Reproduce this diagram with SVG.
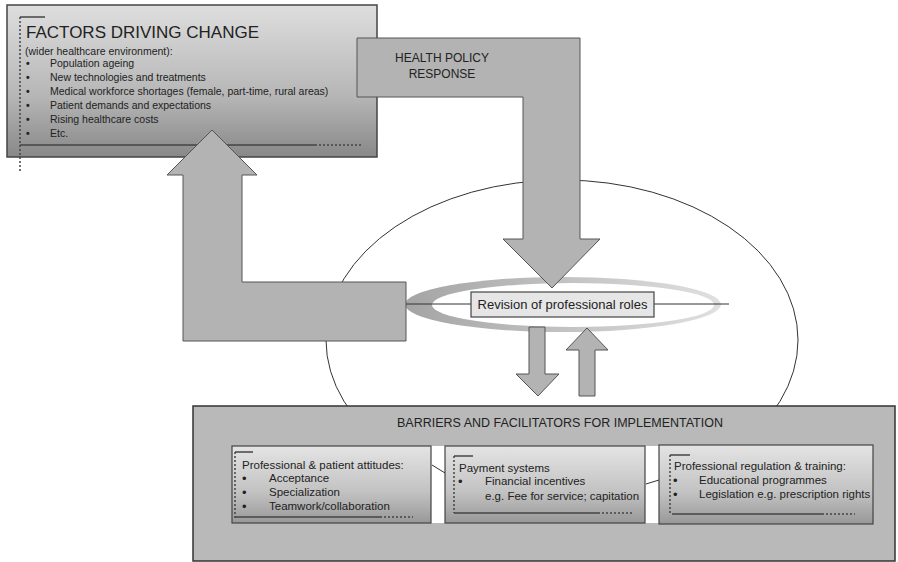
<svg xmlns="http://www.w3.org/2000/svg" width="898" height="562" viewBox="0 0 898 562">
<defs>
<linearGradient id="gBox" x1="0" y1="0" x2="0" y2="1">
<stop offset="0" stop-color="#dedede"/>
<stop offset="0.6" stop-color="#b6b6b6"/>
<stop offset="1" stop-color="#888"/>
</linearGradient>
<linearGradient id="gSub" x1="0" y1="0" x2="0" y2="1">
<stop offset="0" stop-color="#e4e4e4"/>
<stop offset="0.6" stop-color="#c2c2c2"/>
<stop offset="1" stop-color="#989898"/>
</linearGradient>
<linearGradient id="gRing" x1="0" y1="0" x2="1" y2="0">
<stop offset="0" stop-color="#a4a4a4"/>
<stop offset="1" stop-color="#e0e0e0"/>
</linearGradient>
<style>
text{font-family:"Liberation Sans",Arial,sans-serif;fill:#222}
.arrow{fill:#b3b3b3;stroke:#555;stroke-width:1}
.deco{stroke:#444;stroke-width:1.5;fill:none}
.dash{stroke:#444;stroke-width:1.5;fill:none;stroke-dasharray:2 2}
.thin{stroke:#333;stroke-width:1;fill:none}
.t11{font-size:11.5px}
.t10{font-size:10.5px}
.b{font-size:13px}
.bs{font-size:10.5px;font-weight:bold}
</style>
</defs>
<rect width="898" height="562" fill="#fff"/>

<g id="context-ellipse">
<ellipse cx="562" cy="340" rx="236" ry="160" fill="none" stroke="#333" stroke-width="1"/>
</g>

<g id="revision">
<ellipse cx="563" cy="304.5" rx="158" ry="27.5" fill="url(#gRing)"/>
<ellipse cx="573" cy="305" rx="141" ry="22" fill="#fff"/>
<line x1="406" y1="304" x2="729" y2="304" class="thin"/>
<rect x="471" y="292" width="183" height="25" fill="#e6e6e6" stroke="#444" stroke-width="1.2"/>
<text x="562.5" y="309" font-size="13" text-anchor="middle">Revision of professional roles</text>
</g>

<g id="barriers">
<rect x="193" y="406" width="702" height="155" fill="#b9b9b9" stroke="#333" stroke-width="1.5"/>
<text x="560" y="427" font-size="12.5" text-anchor="middle">BARRIERS AND FACILITATORS FOR IMPLEMENTATION</text>
<rect x="431" y="446" width="14" height="77" fill="#fff"/>
<rect x="645" y="446" width="14" height="77" fill="#fff"/>
</g>

<g id="attitudes">
<rect x="232" y="446" width="199" height="77" fill="url(#gSub)" stroke="#444" stroke-width="1.2"/>
<line x1="235" y1="452" x2="253" y2="452" class="deco"/>
<line x1="235" y1="452" x2="235" y2="518" class="dash"/>
<line x1="235" y1="517" x2="380" y2="517" class="deco"/>
<line x1="380" y1="517" x2="413" y2="517" class="dash"/>
<text x="242" y="469" class="t11">Professional &amp; patient attitudes:</text>
<text x="242" y="483" class="b">•</text>
<text x="269" y="482" class="t11">Acceptance</text>
<text x="242" y="497" class="b">•</text>
<text x="269" y="496" class="t11">Specialization</text>
<text x="242" y="511" class="b">•</text>
<text x="269" y="510" class="t11">Teamwork/collaboration</text>
</g>

<g id="payment">
<rect x="445" y="446" width="200" height="77" fill="url(#gSub)" stroke="#444" stroke-width="1.2"/>
<line x1="454" y1="456" x2="473" y2="456" class="deco"/>
<line x1="454" y1="456" x2="454" y2="513" class="dash"/>
<line x1="454" y1="513" x2="598" y2="513" class="deco"/>
<line x1="598" y1="513" x2="633" y2="513" class="dash"/>
<text x="459" y="472" class="t11">Payment systems</text>
<text x="458" y="486" class="b">•</text>
<text x="485" y="485" class="t11">Financial incentives</text>
<text x="485" y="500" class="t11">e.g. Fee for service; capitation</text>
</g>

<g id="regulation">
<rect x="659" y="445" width="214" height="79" fill="url(#gSub)" stroke="#444" stroke-width="1.2"/>
<line x1="670" y1="455" x2="690" y2="455" class="deco"/>
<line x1="670" y1="455" x2="670" y2="514" class="dash"/>
<line x1="672" y1="514" x2="822" y2="514" class="deco"/>
<line x1="822" y1="514" x2="855" y2="514" class="dash"/>
<text x="674" y="470" class="t11">Professional regulation &amp; training:</text>
<text x="673" y="485" class="b">•</text>
<text x="699" y="484" class="t11">Educational programmes</text>
<text x="673" y="499" class="b">•</text>
<text x="699" y="498" class="t11">Legislation e.g. prescription rights</text>
</g>

<g id="factors">
<rect x="7" y="5" width="370" height="152" fill="url(#gBox)" stroke="#444" stroke-width="1.5"/>
<line x1="20" y1="17" x2="45" y2="17" class="deco"/>
<line x1="20" y1="17" x2="20" y2="173" class="dash"/>
<line x1="20" y1="145" x2="315" y2="145" class="deco"/>
<line x1="315" y1="145" x2="362" y2="145" class="dash"/>
<text x="26" y="38" font-size="17">FACTORS DRIVING CHANGE</text>
<text x="25" y="55" class="t10">(wider healthcare environment):</text>
<text x="26" y="67" class="bs">•</text><text x="50" y="67" class="t10">Population ageing</text>
<text x="26" y="81" class="bs">•</text><text x="50" y="81" class="t10">New technologies and treatments</text>
<text x="26" y="95" class="bs">•</text><text x="50" y="95" class="t10">Medical workforce shortages (female, part-time, rural areas)</text>
<text x="26" y="109" class="bs">•</text><text x="50" y="109" class="t10">Patient demands and expectations</text>
<text x="26" y="123" class="bs">•</text><text x="50" y="123" class="t10">Rising healthcare costs</text>
<text x="26" y="137" class="bs">•</text><text x="50" y="137" class="t10">Etc.</text>
</g>

<g id="connectors">
<path id="arrow-feedback" class="arrow" d="M183,341 L183,175 L167,175 L212,130 L257,175 L242,175 L242,282 L406,282 L406,341 Z"/>
<path id="arrow-down-small" class="arrow" d="M529,327 L545,327 L545,374 L559,374 L538,396 L516,374 L529,374 Z"/>
<path id="arrow-up-small" class="arrow" d="M579,396 L595,396 L595,350 L608,350 L587,328 L566,350 L579,350 Z"/>
<line x1="432" y1="465" x2="445" y2="473" class="thin"/>
<line x1="646" y1="484" x2="659" y2="480" class="thin"/>
<path id="arrow-health-policy" class="arrow" d="M357,38 L580,38 L580,239 L600,239 L552,288 L503,239 L523,239 L523,97 L357,97 Z"/>
<text x="442" y="62" font-size="12" text-anchor="middle">HEALTH POLICY</text>
<text x="442" y="78" font-size="12" text-anchor="middle">RESPONSE</text>
</g>
</svg>
